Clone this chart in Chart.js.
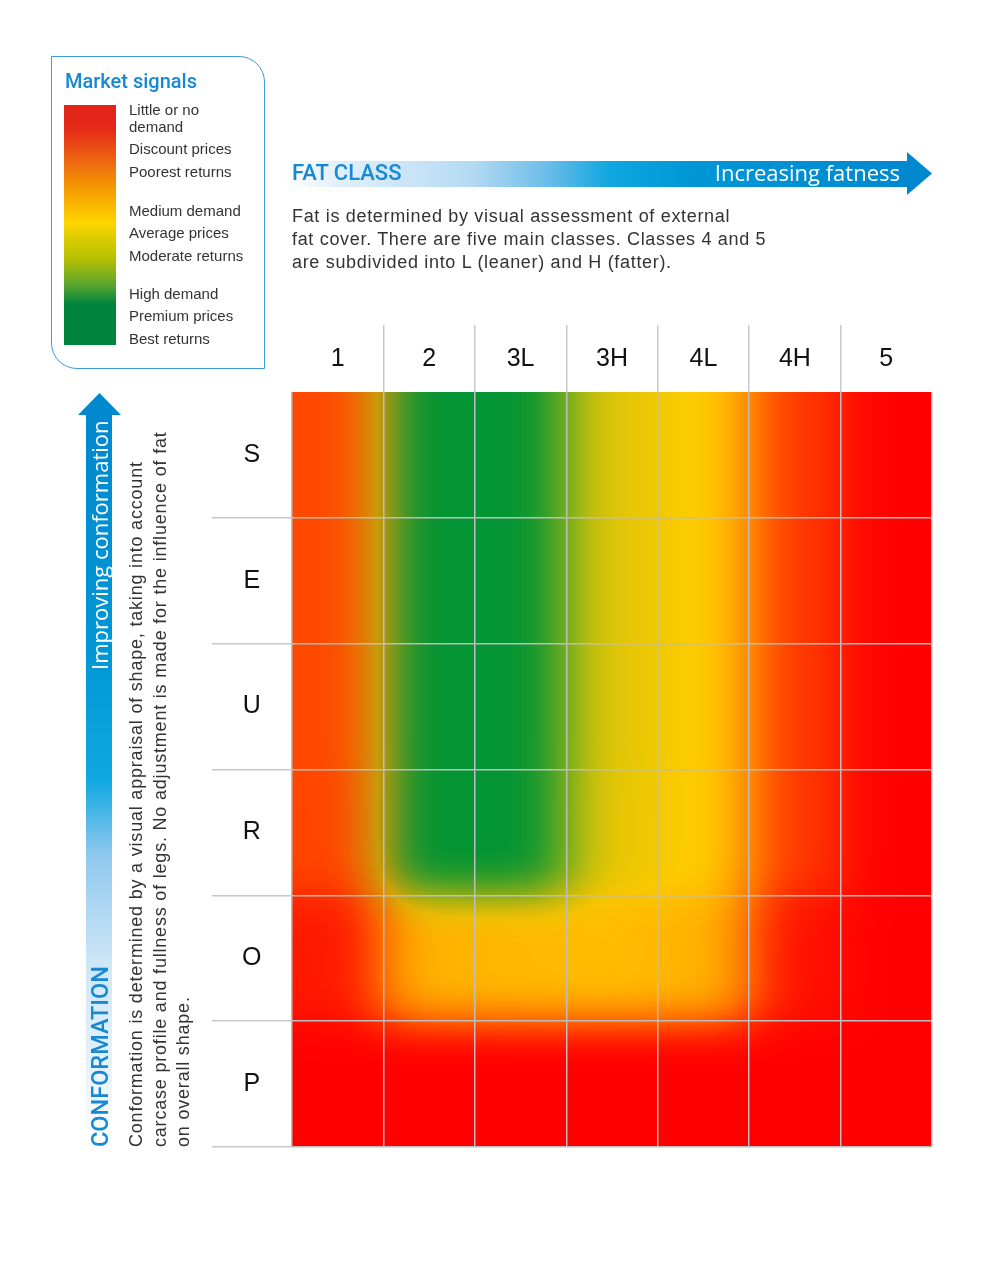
<!DOCTYPE html>
<html>
<head>
<meta charset="utf-8">
<script src="https://cdn.jsdelivr.net/npm/chart.js@4.4.1/dist/chart.umd.min.js"></script>
<style>
  html, body { margin: 0; padding: 0; background: #fff; }
  body { width: 1000px; height: 1273px; position: relative; overflow: hidden;
         font-family: "Liberation Sans", Arial, sans-serif; color: #333; }
  #chart { position: absolute; left: 0; top: 0; }
  .abs { position: absolute; white-space: nowrap; }
  .rot { transform: rotate(-90deg); transform-origin: 0 0; }
  .legend { left: 51px; top: 56px; width: 214px; height: 313px; box-sizing: border-box;
            border: 1.5px solid #3d9ad9; border-radius: 0 26px 0 26px; }
  .legend-title { left: 65px; top: 68px; font: 500 20px/26px Roboto, sans-serif; color: #1789d3; }
  .legend-bar { left: 64px; top: 105px; width: 52px; height: 240px;
    background: linear-gradient(to bottom, #e2231a 0%, #e42a18 10%, #ee6a10 24%, #f39200 33%,
      #ffd500 49%, #d8cc00 56%, #b7c000 64%, #5aa530 75%, #00843d 83%, #00843d 100%); }
  .legend-item { left: 129px; font-size: 15px; line-height: 18px; color: #333; }
  .banner { left: 285px; top: 161px; width: 623px; height: 26px;
    background: linear-gradient(to right, #ffffff 0%, #e3f0fb 8%, #b4daf2 30%, #6cbde9 42%,
      #10a6e0 52%, #0096d6 66%, #0088cf 100%); }
  .banner-head { left: 907px; top: 152px; width: 25px; height: 43px; background: #0088cf;
    clip-path: polygon(0 0, 100% 50%, 0 100%); }
  .fat-title { left: 292px; top: 160px; font: 500 22px/26px Roboto, sans-serif; color: #1789d3; }
  .fat-arrow-text { right: 100px; top: 159px; font: 22px/26px "Open Sans", sans-serif; color: #fff; }
  .fat-text { left: 292px; top: 205px; font-size: 18px; letter-spacing: 0.68px; line-height: 23px; color: #333; }
  .vshaft { left: 86px; top: 414px; width: 26px; height: 733px;
    background: linear-gradient(to top, #ffffff 0%, #e4f1fb 12%, #cfe6f7 25%, #8ec8ee 40%,
      #10a8e0 50%, #0096d6 68%, #0088cf 100%); }
  .vhead { left: 78px; top: 393px; width: 43px; height: 22px; background: #0088cf;
    clip-path: polygon(50% 0, 100% 100%, 0 100%); }
  .conf-arrow-text { left: 86px; top: 670px; font: 22px/26px "Open Sans", sans-serif; color: #fff; }
  .conf-title { left: 87px; top: 1147px; font: 500 23.5px/26px Roboto, sans-serif; color: #1789d3; }
  .conf-text { left: 125px; top: 1147px; font-size: 18px; letter-spacing: 0.8px; line-height: 23.5px; color: #333; }
</style>
</head>
<body>
<canvas id="chart" width="1000" height="1273"></canvas>

<div class="abs legend"></div>
<div class="abs legend-title">Market signals</div>
<div class="abs legend-bar"></div>
<div class="abs legend-item" style="top:101px">Little or no</div>
<div class="abs legend-item" style="top:118px">demand</div>
<div class="abs legend-item" style="top:140px">Discount prices</div>
<div class="abs legend-item" style="top:163px">Poorest returns</div>
<div class="abs legend-item" style="top:202px">Medium demand</div>
<div class="abs legend-item" style="top:224px">Average prices</div>
<div class="abs legend-item" style="top:247px">Moderate returns</div>
<div class="abs legend-item" style="top:285px">High demand</div>
<div class="abs legend-item" style="top:307px">Premium prices</div>
<div class="abs legend-item" style="top:330px">Best returns</div>

<div class="abs banner"></div>
<div class="abs banner-head"></div>
<div class="abs fat-title">FAT CLASS</div>
<div class="abs fat-arrow-text">Increasing fatness</div>
<div class="abs fat-text">Fat is determined by visual assessment of external<br>fat cover. There are five main classes. Classes 4 and 5<br>are subdivided into L (leaner) and H (fatter).</div>

<div class="abs vshaft"></div>
<div class="abs vhead"></div>
<div class="abs rot conf-arrow-text">Improving conformation</div>
<div class="abs rot conf-title">CONFORMATION</div>
<div class="abs rot conf-text">Conformation is determined by a visual appraisal of shape, taking into account<br>carcase profile and fullness of legs. No adjustment is made for the influence of fat<br>on overall shape.</div>

<script>
const fatClasses = ['1', '2', '3L', '3H', '4L', '4H', '5'];
const conformation = ['S', 'E', 'U', 'R', 'O', 'P'];

// market signal per cell: 0 = little or no demand, 0.5 = medium, 1 = high demand
const signalS = [0.15, 1, 1, 0.56, 0.5, 0.12, 0];
const signalE = [0.15, 1, 1, 0.56, 0.5, 0.12, 0];
const signalU = [0.15, 1, 1, 0.56, 0.5, 0.12, 0];
const signalR = [0.14, 1, 1, 0.55, 0.5, 0.12, 0];
const signalO = [0.05, 0.42, 0.44, 0.45, 0.42, 0.04, 0];
const signalP = [0, 0, 0, 0, 0, 0, 0];
const signalRows = [signalS, signalE, signalU, signalR, signalO, signalP];

const stops = [[0, [255, 0, 0]], [0.25, [255, 122, 0]], [0.5, [255, 204, 0]], [1, [3, 148, 51]]];

function signalColour(s) {
    for (let k = 1; k < stops.length; k++) {
        if (s <= stops[k][0]) {
            const [s0, c0] = stops[k - 1];
            const [s1, c1] = stops[k];
            const t = (s - s0) / (s1 - s0);
            return c0.map((v, j) => v + (c1[j] - v) * t);
        }
    }
    return stops[stops.length - 1][1];
}
const css = c => `rgb(${Math.round(c[0])},${Math.round(c[1])},${Math.round(c[2])})`;

// stacked bars bottom-up: P first, S on top
const datasets = conformation.map((name, k) => ({
    label: name,
    scores: signalRows[k],
    data: signalRows[k].map(() => 1),
    backgroundColor: signalRows[k].map(s => css(signalColour(s))),
    borderWidth: 0,
    barPercentage: 1,
    categoryPercentage: 1
})).reverse();

// running box blur along one axis, edges clamped
function blurAxis(src, dst, w, h, r, horizontal) {
    const n = horizontal ? w : h, lines = horizontal ? h : w;
    const step = horizontal ? 1 : w, lineStep = horizontal ? w : 1;
    const norm = 1 / (2 * r + 1);
    for (let L = 0; L < lines; L++) {
        const base = L * lineStep;
        const at = k => src[base + (k < 0 ? 0 : k >= n ? n - 1 : k) * step];
        let sum = 0;
        for (let k = -r; k <= r; k++) sum += at(k);
        for (let k = 0; k < n; k++) {
            dst[base + k * step] = sum * norm;
            sum += at(k + r + 1) - at(k - r);
        }
    }
}

function soften(field, w, h, rx, ry) {
    const tmp = new Float32Array(field.length);
    for (let pass = 0; pass < 3; pass++) {
        blurAxis(field, tmp, w, h, rx, true);
        blurAxis(tmp, field, w, h, ry, false);
    }
    return field;
}

const softCells = {
    id: 'softCells',
    afterDatasetsDraw(chart) {
        const a = chart.chartArea;
        const w = Math.round(a.right - a.left), h = Math.round(a.bottom - a.top);
        const fields = [0, 1, 2, 3].map(() => new Float32Array(w * h));
        const snap = (v, max) => (v < 2 ? 0 : v > max - 2 ? max : Math.round(v));
        chart.data.datasets.forEach((ds, d) => {
            chart.getDatasetMeta(d).data.forEach((bar, i) => {
                const p = bar.getProps(['x', 'y', 'base', 'width'], true);
                const l = snap(p.x - p.width / 2 - a.left, w);
                const r = snap(p.x + p.width / 2 - a.left, w);
                const t = snap(Math.min(p.y, p.base) - a.top, h);
                const b = snap(Math.max(p.y, p.base) - a.top, h);
                const s = ds.scores[i];
                const c = signalColour(s);
                const vals = [c[0], c[1], c[2], s];
                for (let yy = t; yy < b; yy++) {
                    for (let xx = l; xx < r; xx++) {
                        for (let f = 0; f < 4; f++) fields[f][yy * w + xx] = vals[f];
                    }
                }
            });
        });
        fields.forEach(f => soften(f, w, h, 26, 20));

        const off = document.createElement('canvas');
        off.width = w; off.height = h;
        const g = off.getContext('2d');
        const img = g.createImageData(w, h);
        const px = img.data;
        for (let k = 0; k < w * h; k++) {
            const ramp = signalColour(fields[3][k]);
            px[4 * k] = 0.5 * fields[0][k] + 0.5 * ramp[0];
            px[4 * k + 1] = 0.5 * fields[1][k] + 0.5 * ramp[1];
            px[4 * k + 2] = 0.5 * fields[2][k] + 0.5 * ramp[2];
            px[4 * k + 3] = 255;
        }
        g.putImageData(img, 0, 0);
        chart.ctx.drawImage(off, a.left, a.top, a.right - a.left, a.bottom - a.top);
    }
};

const gridGrey = '#bdbdbd';

new Chart(document.getElementById('chart'), {
    type: 'bar',
    data: { labels: fatClasses, datasets: datasets },
    options: {
        responsive: false,
        animation: false,
        layout: { padding: { left: 212, top: 325, right: 68, bottom: 126 } },
        plugins: { legend: { display: false }, tooltip: { enabled: false } },
        scales: {
            x: {
                type: 'category',
                position: 'top',
                stacked: true,
                offset: true,
                afterFit: s => { s.height = 67; },
                border: { display: false },
                grid: {
                    offset: true, z: 1, lineWidth: 1.5, tickLength: 67,
                    color: gridGrey,
                    tickColor: c => (c.type !== 'tick' || c.index === 0) ? 'transparent' : '#c8c8c8'
                },
                ticks: {
                    padding: -49, maxRotation: 0, autoSkip: false,
                    color: '#111', font: { family: 'Liberation Sans', size: 25 }
                }
            },
            y: {
                type: 'linear',
                position: 'left',
                stacked: true,
                min: 0, max: 6,
                weight: 0,
                afterFit: s => { s.width = 80; },
                border: { display: false },
                grid: {
                    z: 1, lineWidth: 1.5, tickLength: 80,
                    color: c => c.tick && c.tick.value === 6 ? 'transparent' : gridGrey,
                    tickColor: c => c.tick && c.tick.value === 6 ? 'transparent' : '#c8c8c8'
                },
                ticks: { stepSize: 1, display: false }
            },
            yl: {
                type: 'category',
                position: 'left',
                labels: conformation,
                offset: true,
                weight: 1,
                afterFit: s => { s.width = 0; },
                border: { display: false },
                grid: { display: false },
                ticks: {
                    mirror: true, crossAlign: 'center', padding: 30,
                    color: '#111', font: { family: 'Liberation Sans', size: 25 }
                }
            }
        }
    },
    plugins: [softCells]
});
</script>
</body>
</html>
